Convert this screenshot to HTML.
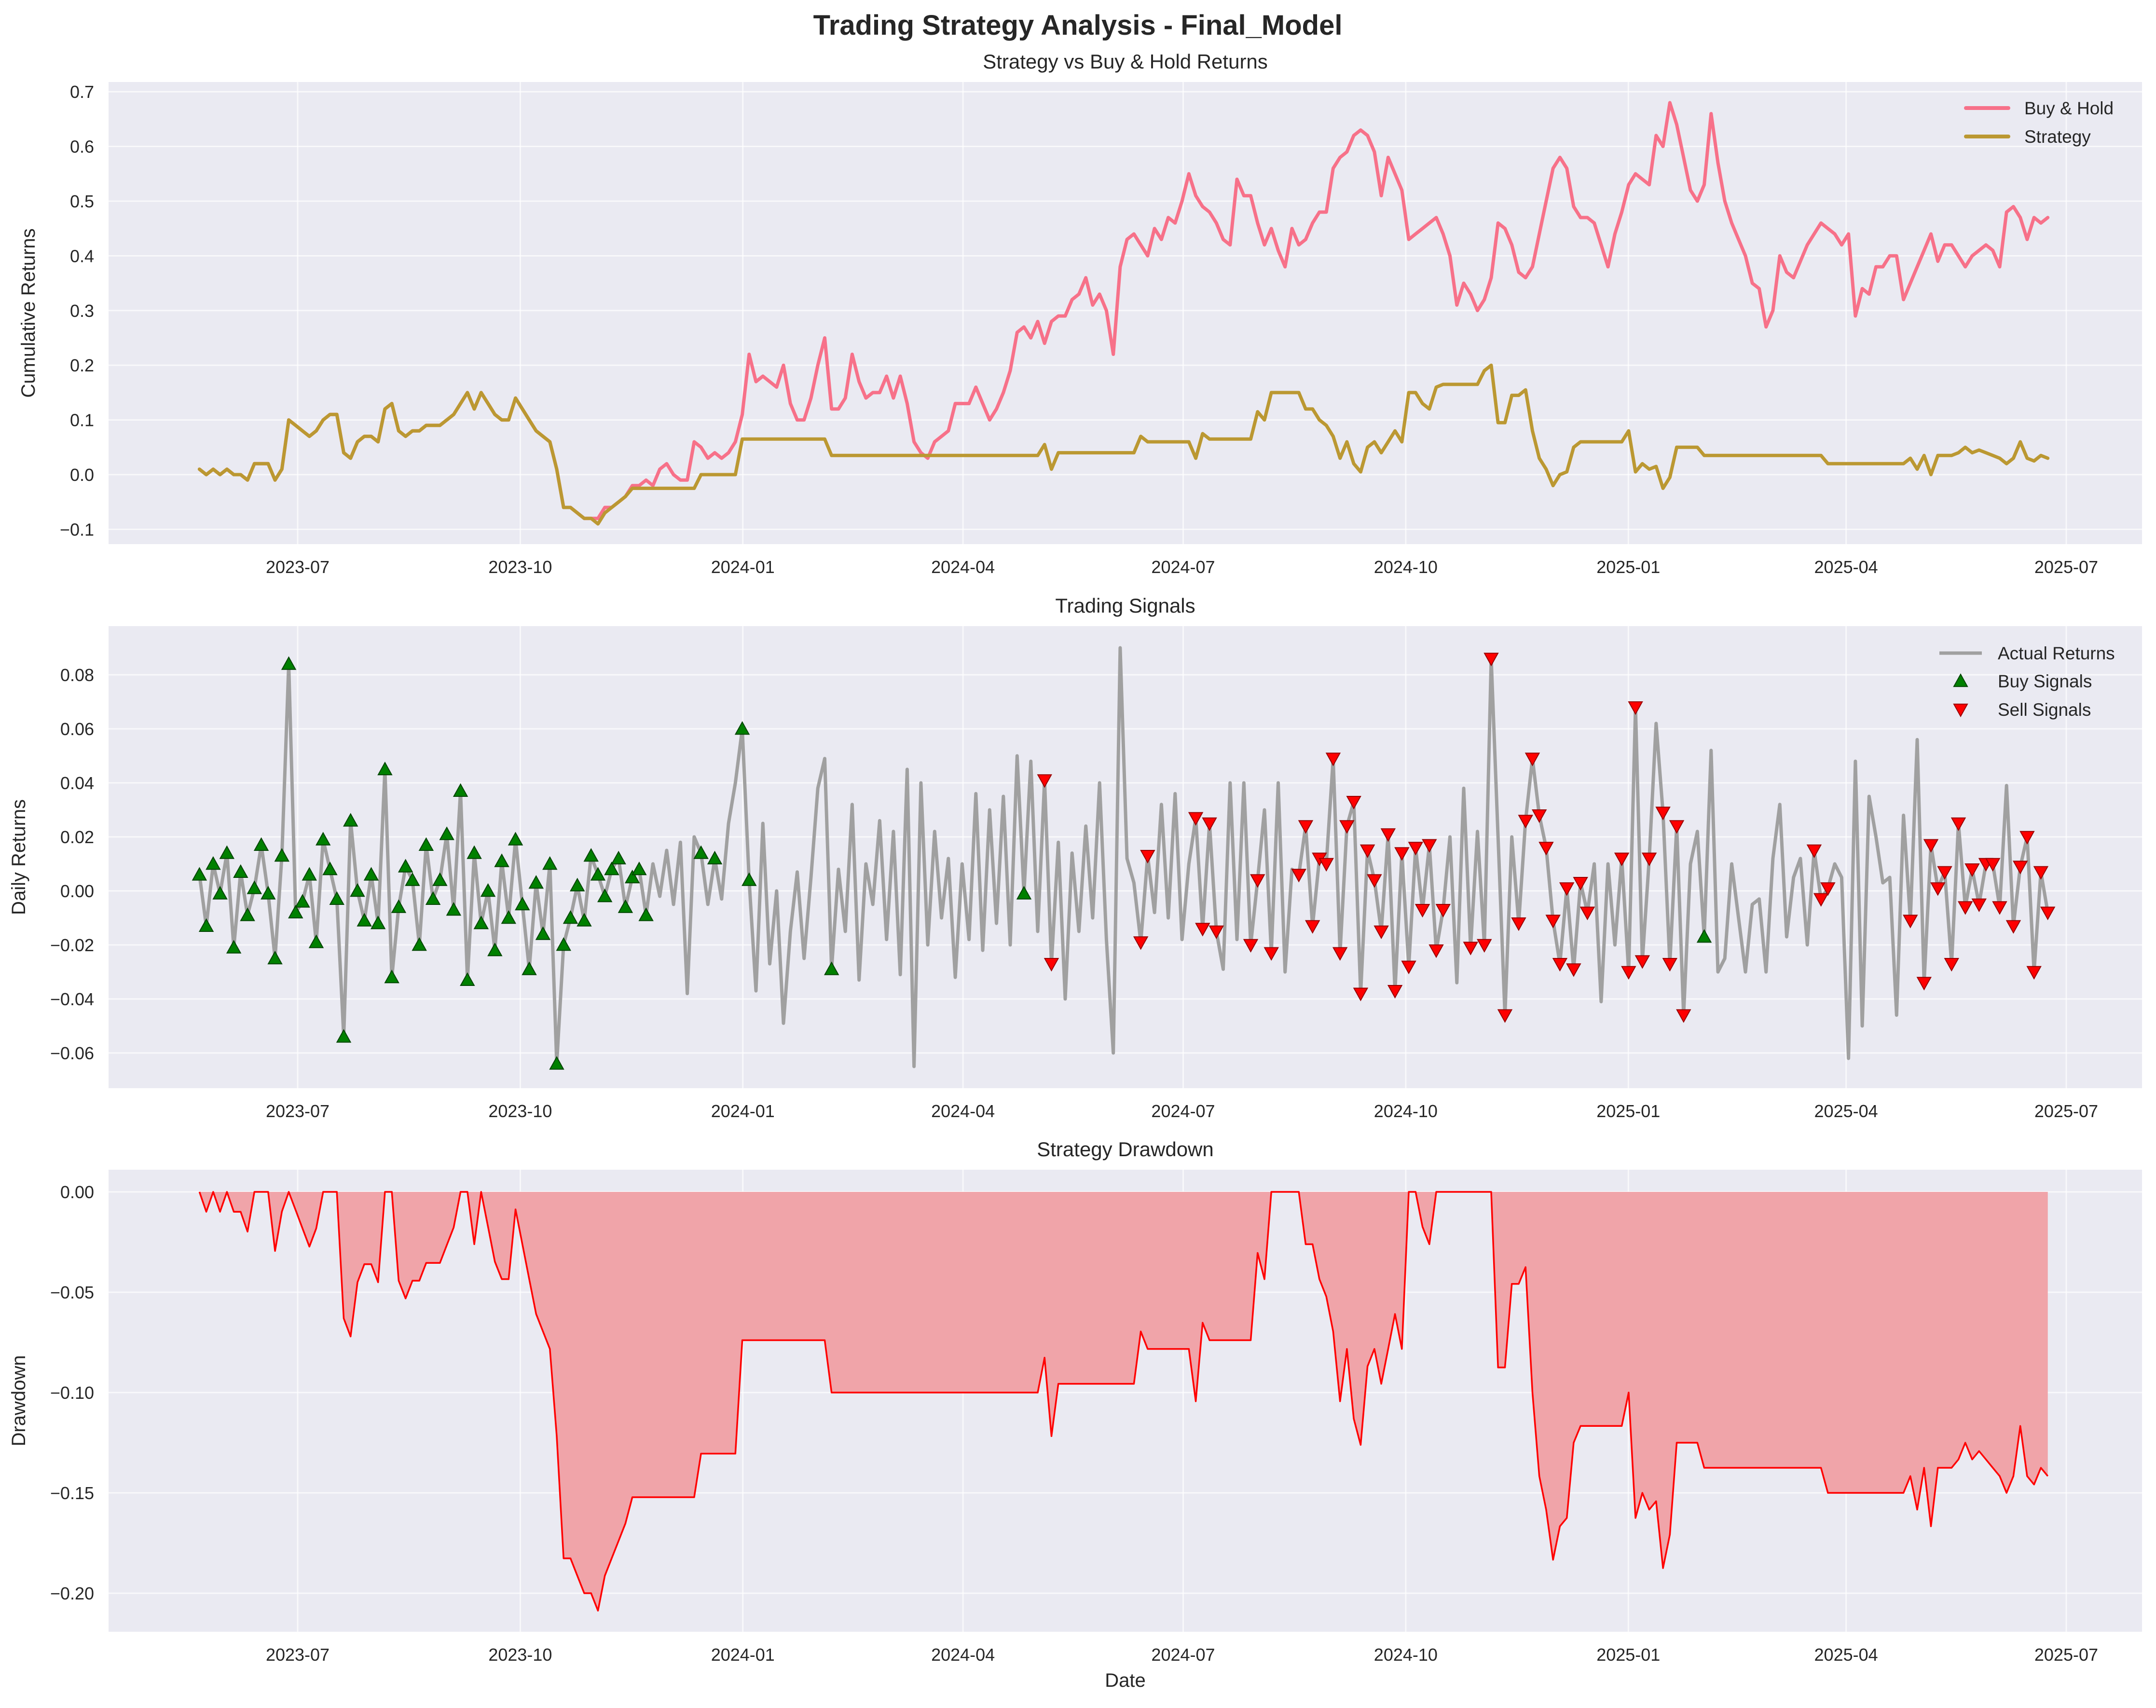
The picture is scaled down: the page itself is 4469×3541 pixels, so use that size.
<!DOCTYPE html>
<html><head><meta charset="utf-8"><style>
html,body{margin:0;padding:0;background:#fff;}
svg{display:block;font-family:"Liberation Sans",sans-serif;}
</style></head><body>
<svg id="fig" width="4469" height="3541" viewBox="0 0 4469 3541" xmlns="http://www.w3.org/2000/svg">
<text x="2234" y="72" text-anchor="middle" font-size="58" font-weight="bold" fill="#262626">Trading Strategy Analysis - Final_Model</text>
</svg>
<script>
// ---- data (sampled on a regular calendar grid) ----
const startDay = -40.6;          // days relative to 2023-07-01
const stepDays = 2.84;
const buyHold = [1,0,1,0,1,0,0,-1,2,2,2,-1,1,10,9,8,7,8,10,11,11,4,3,6,7,7,6,12,13,8,7,8,8,9,9,9,10,11,13,15,12,15,13,11,10,10,14,12,10,8,7,6,1,-6,-6,-7,-8,-8,-8,-6,-6,-5,-4,-2,-2,-1,-2,1,2,0,-1,-1,6,5,3,4,3,4,6,11,22,17,18,17,16,20,13,10,10,14,20,25,12,12,14,22,17,14,15,15,18,14,18,13,6,4,3,6,7,8,13,13,13,16,13,10,12,15,19,26,27,25,28,24,28,29,29,32,33,36,31,33,30,22,38,43,44,42,40,45,43,47,46,50,55,51,49,48,46,43,42,54,51,51,46,42,45,41,38,45,42,43,46,48,48,56,58,59,62,63,62,59,51,58,55,52,43,44,45,46,47,44,40,31,35,33,30,32,36,46,45,42,37,36,38,44,50,56,58,56,49,47,47,46,42,38,44,48,53,55,54,53,62,60,68,64,58,52,50,53,66,57,50,46,43,40,35,34,27,30,40,37,36,39,42,44,46,45,44,42,44,29,34,33,38,38,40,40,32,35,38,41,44,39,42,42,40,38,40,41,42,41,38,48,49,47,43,47,46,47];
const strategy = [1,0,1,0,1,0,0,-1,2,2,2,-1,1,10,9,8,7,8,10,11,11,4,3,6,7,7,6,12,13,8,7,8,8,9,9,9,10,11,13,15,12,15,13,11,10,10,14,12,10,8,7,6,1,-6,-6,-7,-8,-8,-9,-7,-6,-5,-4,
-2.5,-2.5,-2.5,-2.5,-2.5,-2.5,-2.5,-2.5,-2.5,-2.5,
0,0,0,0,0,0,
6.5,6.5,6.5,6.5,6.5,6.5,6.5,6.5,6.5,6.5,6.5,6.5,6.5,
3.5,3.5,3.5,3.5,3.5,3.5,3.5,3.5,3.5,3.5,3.5,3.5,3.5,3.5,3.5,3.5,3.5,3.5,3.5,3.5,3.5,3.5,3.5,3.5,3.5,3.5,3.5,3.5,3.5,3.5,3.5,
5.5,1,4,4,4,4,4,4,4,4,4,4,4,4,
7,6,6,6,6,6,6,6,3,7.5,6.5,6.5,6.5,6.5,6.5,6.5,6.5,11.5,10,15,15,15,15,15,
12,12,10,9,7,3,6,2,0.5,5,6,4,6,8,6,15,15,13,12,16,16.5,16.5,16.5,16.5,16.5,16.5,19,20,9.5,9.5,14.5,14.5,15.5,8,3,1,-2,0,0.5,5,
6,6,6,6,6,6,6,8,0.5,2,1,1.5,-2.5,-0.5,5,5,5,5,
3.5,3.5,3.5,3.5,3.5,3.5,3.5,3.5,3.5,3.5,3.5,3.5,3.5,3.5,3.5,3.5,3.5,3.5,
2,2,2,2,2,2,2,2,2,2,2,2,
3,1,3.5,0,3.5,3.5,3.5,4,5,4,4.5,4,3.5,3,2,3,6,3,2.5,3.5,3];
const dailyReturns = [6,-13,10,-1,14,-21,7,-9,1,17,-1,-25,13,84,-8,-4,6,-19,19,8,-3,-54,26,0,-11,6,-12,45,-32,-6,9,4,-20,17,-3,4,21,-7,37,-33,14,-12,0,-22,11,-10,19,-5,-29,3,-16,10,-64,-20,-10,2,-11,13,6,-2,8,12,-6,5,8,-9,10,-2,15,-5,18,-38,20,14,-5,12,-3,25,40,60,4,-37,25,-27,0,-49,-15,7,-25,5,38,49,-29,8,-15,32,-33,10,-5,26,-18,22,-31,45,-65,40,-20,22,-10,12,-32,10,-18,36,-22,30,-12,35,-20,50,
-1,48,-15,41,-27,18,-40,14,-15,24,-10,40,-18,-60,90,12,3,-19,13,-8,32,-10,36,-18,10,27,-14,25,-15,-29,40,-18,40,-20,4,30,-23,40,-30,8,6,24,-13,12,10,49,-23,24,33,-38,15,4,-15,21,-37,14,-28,16,-7,17,-22,-7,20,-34,38,-21,22,-20,86,20,-46,20,-12,26,49,28,16,-11,-27,1,-29,3,-8,10,-41,10,-20,12,-30,68,-26,12,62,29,-27,24,-46,10,22,-17,52,-30,-25,10,-10,-30,-5,-3,-30,12,32,-17,5,12,-20,15,-3,1,10,5,-62,48,-50,35,20,3,5,-46,28,-11,56,-34,17,1,7,-27,25,-6,8,-5,10,10,-6,39,-13,9,20,-30,7,-8];
const buyIdx = [0,1,2,3,4,5,6,7,8,9,10,11,12,13,14,15,16,17,18,19,20,21,22,23,24,25,26,27,28,29,30,31,32,33,34,35,36,37,38,39,40,41,42,43,44,45,46,47,48,49,50,51,52,53,54,55,56,57,58,59,60,61,62,63,64,65,73,75,79,80,92,120,219];
const sellIdx = [123,124,137,138,145,146,147,148,153,154,156,160,161,162,163,164,165,166,167,168,169,170,171,172,173,174,175,176,177,178,179,180,181,185,187,188,190,192,193,194,195,196,197,198,199,200,201,202,207,208,209,210,211,213,214,215,216,235,236,237,249,251,252,253,254,255,256,257,258,259,260,261,262,264,265,266,267,268,269];
const xTickLabels = ["2023-07","2023-10","2024-01","2024-04","2024-07","2024-10","2025-01","2025-04","2025-07"];
const xTickDays = [0,92,184,275,366,458,550,640,731];
const y1Ticks = [-0.1,0,0.1,0.2,0.3,0.4,0.5,0.6,0.7];
const y2Ticks = [-0.06,-0.04,-0.02,0,0.02,0.04,0.06,0.08];
const y3Ticks = [-0.20,-0.15,-0.10,-0.05,0.00];

// ---- layout ----
const NS="http://www.w3.org/2000/svg";
const svg=document.getElementById('fig');
const PL=225, PR=4440;
const xs = d => 617 + d*5.015;
const dayOf = i => startDay + stepDays*i;
function el(tag, attrs, parent){const e=document.createElementNS(NS,tag);for(const k in attrs)e.setAttribute(k,attrs[k]);(parent||svg).appendChild(e);return e;}
function fmt(v,dec){let s=Math.abs(v).toFixed(dec);return (v<-1e-9?'\u2212':'')+s;}

function panel(name, top, bottom, ys, ticks, dec, ylabel, title, ylabX){
  const g=el('g',{});
  
  
  const bg=el('rect',{x:PL,y:top,width:PR-PL,height:bottom-top,fill:'#EAEAF2'},g);
  
  
  ticks.forEach(t=>{
    const y=ys(t);
    const gl=el('line',{x1:PL,x2:PR,y1:y,y2:y,stroke:'#fff','stroke-width':2.8,'stroke-opacity':0.7},g);
    
    
    const tl=el('text',{x:195,y:y+13,'text-anchor':'end','font-size':36,fill:'#262626'},g);
    
    
    tl.textContent=fmt(t,dec);
  });
  xTickDays.forEach((d,k)=>{
    const x=xs(d);
    const gl=el('line',{x1:x,x2:x,y1:top,y2:bottom,stroke:'#fff','stroke-width':2.8,'stroke-opacity':0.7},g);
    
    
    const tl=el('text',{x:x,y:bottom+60,'text-anchor':'middle','font-size':36,fill:'#262626'},g);
    
    
    tl.textContent=xTickLabels[k];
  });
  const cy=(top+bottom)/2;
  const yl=el('text',{x:ylabX,y:cy,'text-anchor':'middle','font-size':40,fill:'#262626',transform:`rotate(-90 ${ylabX} ${cy})`},g);
  
  
  yl.textContent=ylabel;
  const tt=el('text',{x:(PL+PR)/2,y:top-28,'text-anchor':'middle','font-size':42,fill:'#262626'},g);
  
  
  tt.textContent=title;
  return g;
}

// Panel 1
const T1=170,B1=1128; const y1=v=>984 - v*1134;
const g1=panel('returns-panel',T1,B1,y1,y1Ticks,1,'Cumulative Returns','Strategy vs Buy & Hold Returns',72);
function linePath(vals, ymap, scale){return vals.map((v,i)=>(i?'L':'M')+xs(dayOf(i)).toFixed(1)+','+ymap(v*scale).toFixed(1)).join('');}
const bh=el('path',{d:linePath(buyHold,y1,0.01),fill:'none',stroke:'#f77189','stroke-width':7,'stroke-linejoin':'round','stroke-linecap':'round'},g1);


const st=el('path',{d:linePath(strategy,y1,0.01),fill:'none',stroke:'#bb9832','stroke-width':7,'stroke-linejoin':'round','stroke-linecap':'round'},g1);


[['Buy & Hold','#f77189',224],['Strategy','#bb9832',283]].forEach(([lab,c,y])=>{
  const ln=el('line',{x1:4075,x2:4163,y1:y,y2:y,stroke:c,'stroke-width':8,'stroke-linecap':'round'},g1);
  
  
  const tx=el('text',{x:4196,y:y+13,'font-size':37,fill:'#262626'},g1);
  
  
  tx.textContent=lab;
});

// Panel 2
const T2=1298,B2=2256; const y2=v=>1847 - v*5600;
const g2=panel('signals-panel',T2,B2,y2,y2Ticks,2,'Daily Returns','Trading Signals',52);
const ar=el('path',{d:linePath(dailyReturns,y2,0.001),fill:'none',stroke:'#a0a0a0','stroke-width':7,'stroke-linejoin':'round'},g2);


function tri(cx,cy,up,fill,stroke,parent){
  const s=14;
  const p=up?`${cx},${cy-s} ${cx+s},${cy+s*0.8} ${cx-s},${cy+s*0.8}`:`${cx},${cy+s} ${cx+s},${cy-s*0.8} ${cx-s},${cy-s*0.8}`;
  return el('polygon',{points:p,fill:fill,stroke:stroke,'stroke-width':2},parent);
}
buyIdx.forEach(i=>{
  const m=tri(xs(dayOf(i)),y2(dailyReturns[i]*0.001),true,'#008000','#004400',g2);
  
  
});
sellIdx.forEach(i=>{
  const m=tri(xs(dayOf(i)),y2(dailyReturns[i]*0.001),false,'#ff0000','#990000',g2);
  
  
});
[['Actual Returns',1354,'line'],['Buy Signals',1412,'up'],['Sell Signals',1471,'down']].forEach(([lab,y,k])=>{
  let m;
  if(k==='line') m=el('line',{x1:4020,x2:4108,y1:y,y2:y,stroke:'#a0a0a0','stroke-width':7},g2);
  else if(k==='up') m=tri(4064,y,true,'#008000','#004400',g2);
  else m=tri(4064,y,false,'#ff0000','#990000',g2);
  
  
  const tx=el('text',{x:4141,y:y+13,'font-size':37,fill:'#262626'},g2);
  
  
  tx.textContent=lab;
});

// Panel 3 (drawdown computed from strategy)
const T3=2425,B3=3383; const y3=v=>2471 - v*4160;
const g3=panel('drawdown-panel',T3,B3,y3,y3Ticks,2,'Drawdown','Strategy Drawdown',52);
let peak=-Infinity; const dd=strategy.map(v=>{const w=1+v/100;peak=Math.max(peak,w);return w/peak-1;});
const ddLine=dd.map((v,i)=>(i?'L':'M')+xs(dayOf(i)).toFixed(1)+','+y3(v).toFixed(1)).join('');
const n=dd.length-1;
const fill=el('path',{d:ddLine+`L${xs(dayOf(n)).toFixed(1)},${y3(0)}L${xs(dayOf(0)).toFixed(1)},${y3(0)}Z`,fill:'rgb(240,164,169)',stroke:'none'},g3);


const ddl=el('path',{d:ddLine,fill:'none',stroke:'#ff0000','stroke-width':3.5,'stroke-linejoin':'round'},g3);


const xt=el('text',{x:(PL+PR)/2,y:3497,'text-anchor':'middle','font-size':40,fill:'#262626'});


xt.textContent='Date';
</script>
</body></html>
